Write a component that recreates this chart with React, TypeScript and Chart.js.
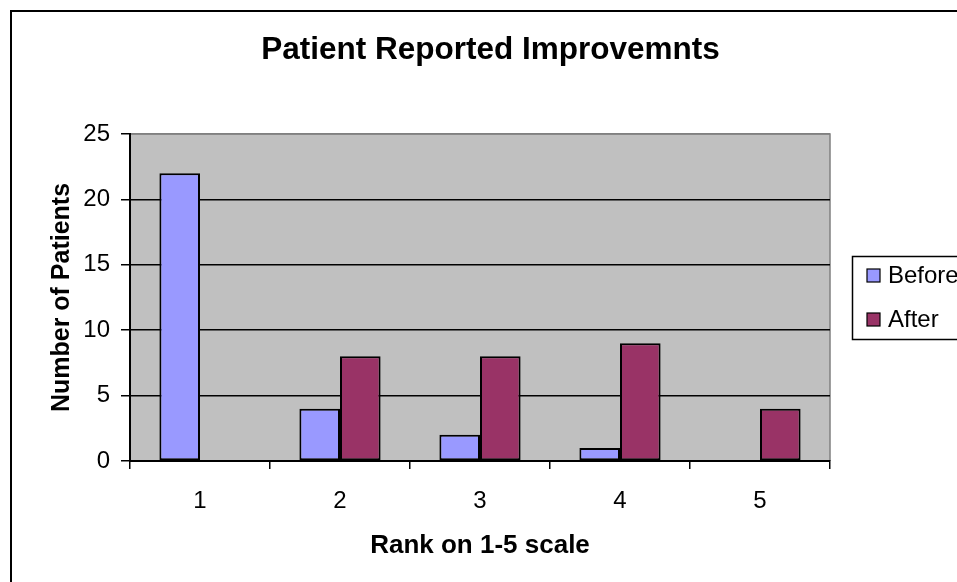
import React, { useEffect, useRef } from "react";
import { Chart, registerables } from "chart.js";

Chart.register(...registerables);

const TITLE = "Patient Reported Improvemnts";
const X_TITLE = "Rank on 1-5 scale";
const Y_TITLE = "Number of Patients";
const categories = ["1", "2", "3", "4", "5"];
const beforeValues = [22, 4, 2, 1, 0];
const afterValues = [0, 8, 8, 9, 4];
const seriesLabels = ["Before", "After"];
const seriesColors = ["#9999FF", "#993366"];
const yMin = 0;
const yMax = 25;
const yStep = 5;

const FONT = '"Liberation Sans", Arial, sans-serif';

const framePlugin = {
  id: "excelFrame",
  beforeDraw(chart: any) {
    const { ctx, chartArea, width, height } = chart;
    ctx.save();
    ctx.fillStyle = "#FFFFFF";
    ctx.fillRect(0, 0, width, height);
    // outer frame (left + top)
    ctx.strokeStyle = "#000000";
    ctx.lineWidth = 2;
    ctx.beginPath();
    ctx.moveTo(3, height + 5);
    ctx.lineTo(3, 3);
    ctx.lineTo(width + 5, 3);
    ctx.stroke();
    // plot area
    ctx.fillStyle = "#C0C0C0";
    ctx.fillRect(chartArea.left, chartArea.top, chartArea.right - chartArea.left, chartArea.bottom - chartArea.top);
    ctx.strokeStyle = "#808080";
    ctx.lineWidth = 1.5;
    ctx.beginPath();
    ctx.moveTo(chartArea.left, chartArea.top);
    ctx.lineTo(chartArea.right, chartArea.top);
    ctx.lineTo(chartArea.right, chartArea.bottom);
    ctx.stroke();
    ctx.restore();
  },
  afterDraw(chart: any) {
    const { ctx } = chart;
    ctx.save();
    // title
    ctx.fillStyle = "#000000";
    ctx.font = `bold 31.5px ${FONT}`;
    ctx.textAlign = "center";
    ctx.textBaseline = "alphabetic";
    ctx.fillText(TITLE, 482.5, 51);
    // legend
    ctx.lineWidth = 1.5;
    ctx.strokeStyle = "#000000";
    ctx.strokeRect(844.5, 248.5, 200, 83);
    ctx.font = `24px ${FONT}`;
    ctx.textAlign = "left";
    ctx.textBaseline = "middle";
    const ds = chart.data.datasets;
    const rowsY = [267.5, 311.5];
    ds.forEach((d: any, i: number) => {
      const y = rowsY[i];
      ctx.fillStyle = d.backgroundColor;
      ctx.fillRect(859, y - 6.5, 13, 13);
      ctx.lineWidth = 1.2;
      ctx.strokeRect(859, y - 6.5, 13, 13);
      ctx.fillStyle = "#000000";
      ctx.fillText(d.label, 880, y + 1);
    });
    ctx.restore();
  },
};

export default function App() {
  const ref = useRef<HTMLCanvasElement | null>(null);
  useEffect(() => {
    if (!ref.current) return;
    const chart = new Chart(ref.current, {
      type: "bar",
      data: {
        labels: categories,
        datasets: [
          {
            label: seriesLabels[0],
            data: beforeValues,
            backgroundColor: seriesColors[0],
            borderColor: "#000000",
            borderWidth: 2,
            borderSkipped: false,
          },
          {
            label: seriesLabels[1],
            data: afterValues,
            backgroundColor: seriesColors[1],
            borderColor: "#000000",
            borderWidth: 2,
            borderSkipped: false,
          },
        ],
      },
      options: {
        responsive: false,
        animation: false,
        events: [],
        layout: { padding: { left: 0, top: 126, right: 127, bottom: 0 } },
        datasets: { bar: { categoryPercentage: 0.58, barPercentage: 1 } },
        plugins: {
          legend: { display: false },
          title: { display: false },
          tooltip: { enabled: false },
        },
        scales: {
          x: {
            type: "category",
            offset: true,
            afterFit: (s: any) => { s.height = 121; },
            grid: {
              offset: true,
              drawOnChartArea: false,
              drawTicks: true,
              tickLength: 8,
              color: "#000000",
              lineWidth: 1.5,
            },
            border: { display: true, color: "#000000", width: 2 },
            ticks: {
              color: "#000000",
              font: { family: FONT, size: 24 },
              padding: 18,
            },
            title: {
              display: true,
              text: X_TITLE,
              color: "#000000",
              font: { family: FONT, size: 26, weight: "bold" },
              padding: { top: 0, bottom: 21 },
            },
          },
          y: {
            min: yMin,
            max: yMax,
            afterFit: (s: any) => { s.width = 122; },
            grid: {
              color: (c: any) => (c.tick && c.tick.value === yMax ? "#808080" : "#000000"),
              tickColor: "#000000",
              lineWidth: 1.5,
              drawTicks: true,
              tickLength: 9,
            },
            border: { display: true, color: "#000000", width: 2 },
            ticks: {
              stepSize: yStep,
              color: "#000000",
              font: { family: FONT, size: 24 },
              padding: 11,
            },
            title: {
              display: true,
              text: Y_TITLE,
              color: "#000000",
              font: { family: FONT, size: 25, weight: "bold" },
              padding: { top: 39, bottom: 0 },
            },
          },
        },
      },
      plugins: [framePlugin],
    } as any);
    return () => chart.destroy();
  }, []);
  return (
    <div style={{ position: "fixed", left: 8, top: 8, width: 949, height: 574, overflow: "hidden" }}>
      <canvas ref={ref} width={949} height={574} style={{ display: "block" }} />
    </div>
  );
}
